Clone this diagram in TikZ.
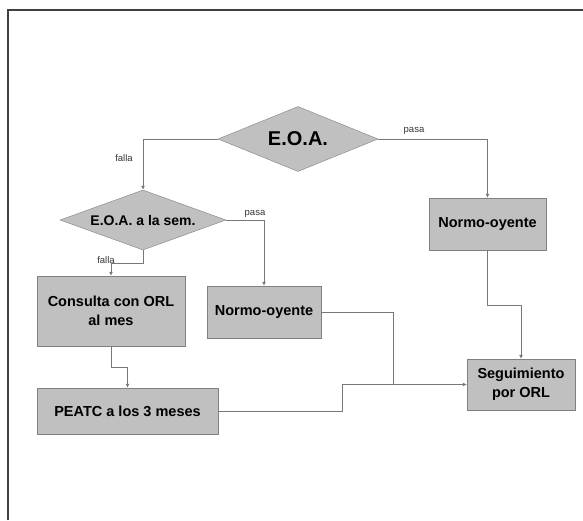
\documentclass[tikz,border=0pt]{standalone}
\usepackage{fontspec}
\setmainfont{Liberation Sans}
\usetikzlibrary{shapes.geometric,arrows.meta}
\definecolor{boxfill}{RGB}{192,192,192}
\definecolor{boxline}{RGB}{128,128,128}
\definecolor{conn}{RGB}{120,120,120}
\begin{document}
\begin{tikzpicture}[x=1pt,y=-1pt,
  every node/.style={inner sep=0pt},
  dbox/.style={shape=diamond,draw=boxline,fill=boxfill,aspect=2.6,font=\bfseries\fontsize{14}{17}\selectfont},
  rbox/.style={shape=rectangle,draw=boxline,fill=boxfill,align=center,font=\bfseries\fontsize{14.5}{19}\selectfont},
  lbl/.style={font=\fontsize{9.5}{11}\selectfont,text=black!80},
  link/.style={draw=conn,line width=0.8pt},
  arr/.style={link,-{Latex[length=4pt,width=4pt]}}]
\useasboundingbox (0,0) rectangle (583,520);
% frame
\draw[black!75,line width=1.5pt] (8,520) -- (8,10) -- (583,10);
% nodes
\node[dbox,minimum width=160,minimum height=65,font=\bfseries\fontsize{20}{24}\selectfont] (eoa) at (298,139) {E.O.A.};
\node[dbox,minimum width=166,minimum height=60] (eoa2) at (143,220) {E.O.A. a la sem.};
\node[rbox,minimum width=117,minimum height=52] (no1) at (487.5,224) {Normo-oyente};
\node[rbox,minimum width=148,minimum height=70] (cons) at (111,311) {Consulta con ORL\\al mes};
\node[rbox,minimum width=114,minimum height=52] (no2) at (264,312) {Normo-oyente};
\node[rbox,minimum width=181,minimum height=46] (peatc) at (127.5,411) {PEATC a los 3 meses};
\node[rbox,minimum width=108,minimum height=51] (seg) at (521,384.5) {Seguimiento\\por ORL};
% labels
\node[lbl] (l1) at (124,158) {falla};
\node[lbl] (l2) at (414,131) {pasa};
\node[lbl] (l3) at (255,214) {pasa};
\node[lbl] (l4) at (106,260) {falla};
% connectors
\coordinate (j1) at (393,384.5);
\path[arr] (eoa.west) -| (eoa2.north);
\path[arr] (eoa.east) -| (no1.north);
\path[arr] (eoa2.east) -| (no2.north);
\path[arr] (eoa2.south) -- ++(0,13) -| (cons.north);
\path[arr] (cons.south) -- ++(0,21) -| (peatc.north);
\path[arr] (peatc.east) -- (342,411) |- (seg.west);
\path[link] (no2.east) -| (j1);
\path[arr] (no1.south) -- ++(0,55) -| (seg.north);
\end{tikzpicture}
\end{document}
